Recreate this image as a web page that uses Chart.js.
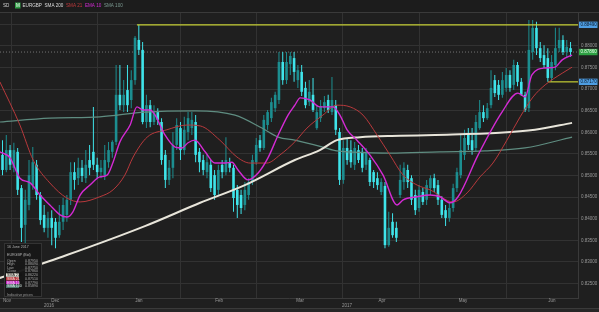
<!DOCTYPE html>
<html>
<head>
<meta charset="utf-8">
<title>EURGBP</title>
<script src="https://cdn.jsdelivr.net/npm/chart.js@4/dist/chart.umd.min.js"></script>
<style>
    html, body { margin: 0; padding: 0; background: #1f1f1f; overflow: hidden; }
    #wrap { position: relative; width: 599px; height: 312px; }
</style>
</head>
<body>
<div id="wrap"><canvas id="priceChart" width="599" height="312"></canvas></div>
<script>
// Daily candles, 28 Nov 2016 .. 23 Jun 2017 (index = trading day)
const opens = [
    0.8548, 0.8513, 0.8559, 0.8518, 0.8555, 0.8471, 0.8386, 0.8432, 0.8478, 0.8525,
    0.8455, 0.8409, 0.8379, 0.8402, 0.8393, 0.8362, 0.8393, 0.8409, 0.8444, 0.8508,
    0.8494, 0.8518, 0.8494, 0.8536, 0.8555, 0.8525, 0.8508, 0.8501, 0.8531, 0.8555,
    0.8578, 0.8687, 0.8663, 0.8698, 0.8675, 0.8721, 0.8814, 0.8791, 0.8624, 0.8663,
    0.8624, 0.8647, 0.8624, 0.8548, 0.8490, 0.8518, 0.8571, 0.8610, 0.8559, 0.8601,
    0.8610, 0.8624, 0.8555, 0.8536, 0.8508, 0.8525, 0.8501, 0.8467, 0.8525, 0.8508,
    0.8531, 0.8518, 0.8467, 0.8455, 0.8432, 0.8455, 0.8485, 0.8531, 0.8582, 0.8564,
    0.8617, 0.8633, 0.8656, 0.8675, 0.8763, 0.8721, 0.8758, 0.8772, 0.8721, 0.8740,
    0.8703, 0.8670, 0.8687, 0.8610, 0.8633, 0.8656, 0.8675, 0.8647, 0.8663, 0.8601,
    0.8490, 0.8564, 0.8559, 0.8525, 0.8559, 0.8555, 0.8525, 0.8536, 0.8508, 0.8494,
    0.8462, 0.8476, 0.8339, 0.8393, 0.8379, 0.8455, 0.8485, 0.8513, 0.8494, 0.8455,
    0.8425, 0.8462, 0.8444, 0.8471, 0.8494, 0.8478, 0.8444, 0.8420, 0.8402, 0.8425,
    0.8471, 0.8501, 0.8548, 0.8594, 0.8582, 0.8564, 0.8610, 0.8647, 0.8633, 0.8663,
    0.8721, 0.8710, 0.8687, 0.8703, 0.8733, 0.8710, 0.8756, 0.8717, 0.8687, 0.8656,
    0.8786, 0.8842, 0.8795, 0.8779, 0.8772, 0.8726, 0.8756, 0.8795, 0.8814, 0.8786,
    0.8795
];
const highs = [
    0.8582, 0.8594, 0.8571, 0.8576, 0.8564, 0.8478, 0.8467, 0.8536, 0.8566, 0.8536,
    0.8462, 0.8432, 0.8416, 0.8420, 0.8402, 0.8432, 0.8448, 0.8455, 0.8531, 0.8531,
    0.8541, 0.8536, 0.8559, 0.8571, 0.8659, 0.8541, 0.8536, 0.8571, 0.8578, 0.8582,
    0.8756, 0.8756, 0.8721, 0.8756, 0.8744, 0.8823, 0.8849, 0.8809, 0.8687, 0.8675,
    0.8663, 0.8656, 0.8633, 0.8559, 0.8536, 0.8601, 0.8633, 0.8624, 0.8636, 0.8647,
    0.8647, 0.8640, 0.8564, 0.8548, 0.8548, 0.8536, 0.8513, 0.8525, 0.8536, 0.8589,
    0.8541, 0.8525, 0.8478, 0.8467, 0.8485, 0.8494, 0.8548, 0.8587, 0.8594, 0.8640,
    0.8652, 0.8680, 0.8694, 0.8786, 0.8786, 0.8786, 0.8786, 0.8786, 0.8756, 0.8756,
    0.8717, 0.8721, 0.8726, 0.8663, 0.8675, 0.8684, 0.8687, 0.8728, 0.8675, 0.8610,
    0.8582, 0.8587, 0.8582, 0.8578, 0.8571, 0.8564, 0.8564, 0.8541, 0.8513, 0.8508,
    0.8494, 0.8485, 0.8416, 0.8413, 0.8393, 0.8525, 0.8531, 0.8525, 0.8501, 0.8467,
    0.8478, 0.8471, 0.8490, 0.8501, 0.8504, 0.8490, 0.8453, 0.8432, 0.8439, 0.8481,
    0.8518, 0.8594, 0.8606, 0.8610, 0.8610, 0.8640, 0.8675, 0.8663, 0.8668, 0.8744,
    0.8733, 0.8721, 0.8740, 0.8749, 0.8744, 0.8768, 0.8763, 0.8726, 0.8694, 0.8860,
    0.8860, 0.8856, 0.8809, 0.8802, 0.8795, 0.8779, 0.8842, 0.8842, 0.8825, 0.8814,
    0.8809
];
const lows = [
    0.8501, 0.8508, 0.8513, 0.8508, 0.8455, 0.8346, 0.8339, 0.8420, 0.8467, 0.8444,
    0.8386, 0.8369, 0.8356, 0.8339, 0.8332, 0.8356, 0.8374, 0.8393, 0.8432, 0.8467,
    0.8478, 0.8485, 0.8483, 0.8501, 0.8513, 0.8494, 0.8494, 0.8490, 0.8518, 0.8541,
    0.8571, 0.8652, 0.8647, 0.8647, 0.8656, 0.8710, 0.8779, 0.8619, 0.8610, 0.8612,
    0.8617, 0.8617, 0.8525, 0.8471, 0.8478, 0.8494, 0.8559, 0.8536, 0.8548, 0.8582,
    0.8594, 0.8531, 0.8508, 0.8501, 0.8494, 0.8462, 0.8444, 0.8455, 0.8494, 0.8501,
    0.8508, 0.8416, 0.8402, 0.8411, 0.8420, 0.8444, 0.8478, 0.8525, 0.8555, 0.8559,
    0.8606, 0.8624, 0.8647, 0.8666, 0.8710, 0.8712, 0.8733, 0.8717, 0.8703, 0.8684,
    0.8656, 0.8661, 0.8647, 0.8606, 0.8624, 0.8647, 0.8645, 0.8640, 0.8594, 0.8478,
    0.8481, 0.8525, 0.8518, 0.8513, 0.8529, 0.8508, 0.8513, 0.8476, 0.8471, 0.8467,
    0.8455, 0.8332, 0.8335, 0.8356, 0.8346, 0.8448, 0.8467, 0.8471, 0.8432, 0.8409,
    0.8416, 0.8432, 0.8432, 0.8455, 0.8462, 0.8432, 0.8402, 0.8383, 0.8393, 0.8416,
    0.8462, 0.8494, 0.8536, 0.8559, 0.8548, 0.8555, 0.8606, 0.8624, 0.8629, 0.8656,
    0.8682, 0.8675, 0.8680, 0.8694, 0.8694, 0.8698, 0.8707, 0.8684, 0.8647, 0.8647,
    0.8768, 0.8779, 0.8763, 0.8749, 0.8717, 0.8717, 0.8744, 0.8786, 0.8779, 0.8772,
    0.8775
];
const closes = [
    0.8513, 0.8559, 0.8525, 0.8559, 0.8467, 0.8379, 0.8444, 0.8501, 0.8531, 0.8455,
    0.8397, 0.8379, 0.8402, 0.8379, 0.8356, 0.8393, 0.8432, 0.8444, 0.8508, 0.8490,
    0.8518, 0.8499, 0.8525, 0.8518, 0.8525, 0.8508, 0.8518, 0.8536, 0.8559, 0.8578,
    0.8687, 0.8663, 0.8687, 0.8663, 0.8721, 0.8819, 0.8791, 0.8624, 0.8663, 0.8624,
    0.8647, 0.8629, 0.8536, 0.8490, 0.8518, 0.8571, 0.8617, 0.8559, 0.8606, 0.8633,
    0.8629, 0.8548, 0.8531, 0.8513, 0.8531, 0.8471, 0.8455, 0.8513, 0.8508, 0.8536,
    0.8518, 0.8448, 0.8432, 0.8425, 0.8467, 0.8485, 0.8536, 0.8571, 0.8564, 0.8629,
    0.8647, 0.8670, 0.8687, 0.8763, 0.8721, 0.8763, 0.8777, 0.8740, 0.8744, 0.8694,
    0.8663, 0.8694, 0.8652, 0.8647, 0.8661, 0.8670, 0.8652, 0.8675, 0.8606, 0.8490,
    0.8564, 0.8536, 0.8531, 0.8564, 0.8536, 0.8518, 0.8555, 0.8485, 0.8485, 0.8478,
    0.8485, 0.8339, 0.8379, 0.8362, 0.8356, 0.8490, 0.8518, 0.8485, 0.8444, 0.8420,
    0.8467, 0.8439, 0.8478, 0.8494, 0.8471, 0.8444, 0.8409, 0.8402, 0.8425, 0.8471,
    0.8508, 0.8559, 0.8587, 0.8571, 0.8559, 0.8624, 0.8647, 0.8633, 0.8656, 0.8703,
    0.8691, 0.8687, 0.8721, 0.8733, 0.8703, 0.8756, 0.8717, 0.8687, 0.8652, 0.8791,
    0.8842, 0.8795, 0.8772, 0.8756, 0.8726, 0.8763, 0.8795, 0.8814, 0.8786, 0.8798,
    0.8786
];

// moving averages: [day index, value]
const ema10 = [[-0.7, 0.8555], [2.0, 0.8541], [4.6, 0.8494], [7.3, 0.8483], [9.9, 0.8455], [12.5, 0.8432],
    [15.2, 0.8409], [17.0, 0.8404], [18.6, 0.8416], [20.5, 0.8455], [23.1, 0.8478], [25.7, 0.8497],
    [27.6, 0.8501], [29.2, 0.8531], [31.0, 0.8578], [33.7, 0.8617], [35.5, 0.8659], [37.1, 0.8652],
    [39.0, 0.8652], [40.3, 0.8640], [42.9, 0.8594], [45.6, 0.8566], [47.4, 0.8564], [49.0, 0.8576],
    [50.8, 0.8582], [53.5, 0.8555], [56.1, 0.8529], [58.8, 0.8529], [60.6, 0.8531], [62.2, 0.8513],
    [64.8, 0.8490], [67.5, 0.8506], [70.1, 0.8541], [72.8, 0.8594], [75.4, 0.8640], [77.2, 0.8663],
    [78.6, 0.8680], [81.2, 0.8675], [83.8, 0.8659], [87.3, 0.8659], [89.1, 0.8640], [91.0, 0.8606],
    [93.6, 0.8582], [97.0, 0.8548], [100.5, 0.8501], [104.2, 0.8432], [105.8, 0.8444], [109.5, 0.8451],
    [112.9, 0.8455], [115.5, 0.8451], [118.2, 0.8437], [120.3, 0.8451], [125.6, 0.8548], [131.9, 0.8647],
    [136.1, 0.8691], [138.0, 0.8682], [139.8, 0.8733], [143.3, 0.8749], [145.9, 0.8751], [147.8, 0.8768],
    [150.4, 0.8779]];
const sma21 = [[-0.7, 0.8717], [4.6, 0.8617], [8.1, 0.8536], [12.5, 0.8483], [17.0, 0.8448], [20.5, 0.8439],
    [25.7, 0.8451], [29.2, 0.8467], [32.3, 0.8501], [34.5, 0.8543], [38.2, 0.8589], [43.4, 0.8606],
    [48.7, 0.8617], [52.2, 0.8615], [57.4, 0.8582], [61.9, 0.8543], [65.4, 0.8529], [69.8, 0.8529],
    [73.3, 0.8548], [77.2, 0.8578], [80.4, 0.8610], [84.6, 0.8640], [88.3, 0.8663], [91.8, 0.8659],
    [95.2, 0.8640], [98.9, 0.8594], [102.3, 0.8548], [105.8, 0.8501], [109.5, 0.8478], [112.9, 0.8467],
    [119.0, 0.8439], [122.7, 0.8460], [126.1, 0.8497], [129.5, 0.8529], [133.2, 0.8582], [136.7, 0.8636],
    [140.1, 0.8682], [143.3, 0.8710], [147.8, 0.8737], [150.4, 0.8751]];
const sma100 = [[-0.7, 0.8624], [12.5, 0.8633], [25.7, 0.8636], [37.6, 0.8647], [50.8, 0.8650], [61.4, 0.8640],
    [68.5, 0.8610], [72.8, 0.8589], [77.2, 0.8582], [84.6, 0.8566], [88.3, 0.8557], [102.3, 0.8552],
    [115.5, 0.8555], [127.4, 0.8557], [138.0, 0.8564], [150.4, 0.8589]];
const sma200 = [[-0.7, 0.8263], [17.0, 0.8316], [37.6, 0.8383], [52.2, 0.8437], [64.0, 0.8478], [77.2, 0.8536],
    [83.8, 0.8559], [88.3, 0.8582], [94.4, 0.8589], [105.0, 0.8592], [114.2, 0.8594], [131.3, 0.8599],
    [140.6, 0.8606], [150.4, 0.8622]];

// horizontal levels
const resistance = 0.8849, resistanceFrom = 35.5;
const support = 0.8717, supportFrom = 144.1;

// axes
const yTicks = [0.825, 0.830, 0.835, 0.840, 0.845, 0.850, 0.855, 0.860, 0.865, 0.870, 0.875, 0.880, 0.885];
const monthStarts = [2.5, 25.2, 46.9, 67.2, 89.9, 110.2, 133.2];
const monthNames = ['Nov', 'Dec', 'Jan', 'Feb', 'Mar', 'Apr', 'May', 'Jun'];
const monthCenters = [1.2, 13.9, 36.0, 57.2, 78.6, 100.2, 121.6, 145.1];
const yearNames = ['2016', '2017'];
const yearCenters = [12.3, 91.0];

const xMin = -0.66, xMax = 151.97;
const yMin = 0.82166, yMax = 0.88787;

const upColor = '#1c8e90';
const downColor = '#3fe4ea';
const gridColor = '#323232';
const FONT = 'Liberation Sans';

const lastIdx = closes.length - 1;

function candleColor(ctx) {
    const i = ctx.dataIndex;
    return closes[i] >= opens[i] ? upColor : downColor;
}
function toPoints(arr) {
    return arr.map(p => ({ x: p[0], y: p[1] }));
}
function lastOf(arr) {
    return arr[arr.length - 1][1];
}

const wickData = closes.map((c, i) => ({ x: i, y: [lows[i], highs[i]] }));
const bodyData = closes.map((c, i) => ({ x: i, y: [opens[i], closes[i]] }));

// background, header, price boxes and info panel
const panelPlugin = {
    id: 'panel',
    beforeDraw(chart) {
        const c = chart.ctx;
        c.save();
        c.fillStyle = '#1f1f1f';
        c.fillRect(0, 0, chart.width, chart.height);
        c.fillStyle = '#262626';
        c.fillRect(0, 308, chart.width, 4);
        c.strokeStyle = '#3a3a3a';
        c.lineWidth = 1;
        c.beginPath(); c.moveTo(0, 308.5); c.lineTo(chart.width, 308.5); c.stroke();
        c.restore();
    },
    afterDraw(chart) {
        const c = chart.ctx;
        const ys = chart.scales.y;
        c.save();

        // header line
        c.fillStyle = '#1c1c1c';
        c.fillRect(0, 0, chart.width, 12);
        c.strokeStyle = '#3a3a3a';
        c.beginPath(); c.moveTo(0, 12.5); c.lineTo(chart.width, 12.5); c.stroke();
        c.font = '4.6px "' + FONT + '"';
        c.textBaseline = 'middle';
        c.fillStyle = '#cfcfcf';
        c.fillText('SD', 3, 6);
        c.fillStyle = '#2f9e44';
        c.fillRect(15, 2.5, 5.5, 6);
        c.fillStyle = '#ffffff';
        c.fillText('M', 15.9, 6);
        const header = [['EURGBP', '#dcdcdc'], ['SMA 200', '#dcdcdc'], ['SMA 21', '#c0393c'],
                        ['EMA 10', '#d42ad4'], ['SMA 100', '#7c9b92']];
        let hx = 22.5;
        header.forEach(h => {
            c.fillStyle = h[1];
            c.fillText(h[0], hx, 6);
            hx += c.measureText(h[0]).width + 2.6;
        });

        // price boxes on the right axis
        function priceBox(value, bg, fg) {
            const y = ys.getPixelForValue(value);
            c.fillStyle = bg;
            c.fillRect(579, y - 3.2, 18.5, 6.4);
            c.fillStyle = fg;
            c.font = '4.5px "' + FONT + '"';
            c.fillText(value.toFixed(5), 580.5, y);
        }
        priceBox(resistance, '#4e9de2', '#0d1c2c');
        priceBox(support, '#4e9de2', '#0d1c2c');
        priceBox(closes[lastIdx], '#2ea043', '#eaffea');

        // info panel
        c.fillStyle = 'rgba(23,23,23,0.96)';
        c.fillRect(4, 243, 38, 54);
        c.strokeStyle = '#333333';
        c.strokeRect(4.5, 243.5, 37, 53);
        c.font = '3.6px "' + FONT + '"';
        c.fillStyle = '#b4b4b4';
        c.fillText('16 June 2017', 7, 247);
        c.fillText('EURGBP (Bid)', 7, 255);
        const rows = [['Open', opens[lastIdx]], ['High', highs[lastIdx]], ['Low', lows[lastIdx]], ['Close', closes[lastIdx]]];
        rows.forEach((r, k) => {
            const y = 260.5 + k * 3.6;
            c.fillStyle = '#a8a8a8';
            c.fillText(r[0], 7, y);
            c.fillText(r[1].toFixed(5), 25, y);
        });
        const tags = [['SMA 200', lastOf(sma200), '#e8e5da', '#111111'],
                      ['SMA 21', lastOf(sma21), '#b8393c', '#f0d0d0'],
                      ['EMA 10', lastOf(ema10), '#c228c2', '#f6d6f6'],
                      ['SMA 100', lastOf(sma100), '#4f7a70', '#d8ece6']];
        tags.forEach((t, k) => {
            const y = 275 + k * 3.75;
            c.fillStyle = t[2];
            c.fillRect(6, y - 1.7, 13, 3.4);
            c.fillStyle = t[3];
            c.fillText(t[0], 7, y);
            c.fillStyle = '#a8a8a8';
            c.fillText(t[1].toFixed(5), 25, y);
        });
        c.fillStyle = '#9a9a9a';
        c.fillText('Indicative prices', 7, 294.5);

        c.restore();
    }
};

const tickFont = { size: 4.5, family: FONT };

new Chart(document.getElementById('priceChart').getContext('2d'), {
    type: 'bar',
    data: {
        datasets: [
            { type: 'line', label: 'EMA 10', data: toPoints(ema10), borderColor: '#d42ad4', borderWidth: 1.4,
              pointRadius: 0, cubicInterpolationMode: 'monotone', xAxisID: 'x', yAxisID: 'y', order: 1 },
            { type: 'line', label: 'SMA 21', data: toPoints(sma21), borderColor: '#b8393c', borderWidth: 1,
              pointRadius: 0, cubicInterpolationMode: 'monotone', xAxisID: 'x', yAxisID: 'y', order: 2 },
            { type: 'line', label: 'SMA 200', data: toPoints(sma200), borderColor: '#e8e5da', borderWidth: 2,
              pointRadius: 0, cubicInterpolationMode: 'monotone', xAxisID: 'x', yAxisID: 'y', order: 3 },
            { type: 'line', label: 'SMA 100', data: toPoints(sma100), borderColor: '#5f8d81', borderWidth: 1.2,
              pointRadius: 0, cubicInterpolationMode: 'monotone', xAxisID: 'x', yAxisID: 'y', order: 4 },
            { type: 'line', label: 'Resistance', data: [{ x: resistanceFrom, y: resistance }, { x: xMax, y: resistance }],
              borderColor: '#c6cf35', borderWidth: 1.2, pointRadius: 0, xAxisID: 'x', yAxisID: 'y', order: 5 },
            { type: 'line', label: 'Support', data: [{ x: supportFrom, y: support }, { x: xMax, y: support }],
              borderColor: '#c6cf35', borderWidth: 1.2, pointRadius: 0, xAxisID: 'x', yAxisID: 'y', order: 5 },
            { type: 'bar', label: 'Bodies', data: bodyData, backgroundColor: candleColor, barThickness: 2.6,
              minBarLength: 1, grouped: false, inflateAmount: 0, xAxisID: 'x', yAxisID: 'y', order: 6 },
            { type: 'bar', label: 'Wicks', data: wickData, backgroundColor: candleColor, barThickness: 1,
              grouped: false, inflateAmount: 0, xAxisID: 'x', yAxisID: 'y', order: 7 },
            { type: 'line', label: 'Last', data: [{ x: xMin, y: closes[lastIdx] }, { x: xMax, y: closes[lastIdx] }],
              borderColor: '#8a8a8a', borderWidth: 0.8, borderDash: [1, 2], pointRadius: 0,
              xAxisID: 'x', yAxisID: 'y', order: 8 }
        ]
    },
    options: {
        responsive: false,
        animation: false,
        events: [],
        layout: { autoPadding: false, padding: { top: 12, left: 0, right: 0, bottom: 0 } },
        plugins: {
            legend: { display: false },
            tooltip: { enabled: false }
        },
        scales: {
            x: {
                type: 'linear', position: 'bottom', min: xMin, max: xMax, offset: false, weight: 0,
                afterBuildTicks: s => { s.ticks = monthStarts.map(v => ({ value: v })); },
                ticks: { display: false },
                grid: { color: gridColor, drawTicks: false, offset: false },
                border: { display: true, color: '#3a3a3a' },
                afterFit: s => { s.height = 0; }
            },
            xm: {
                type: 'linear', axis: 'x', position: 'bottom', min: xMin, max: xMax, offset: false, weight: 1,
                afterBuildTicks: s => { s.ticks = monthCenters.map(v => ({ value: v })); },
                ticks: { autoSkip: false, maxRotation: 0, minRotation: 0, padding: 0.5, color: '#9a9a9a',
                         font: tickFont, callback: (v, i) => monthNames[i] },
                grid: { display: false, drawTicks: false },
                border: { display: false },
                afterFit: s => { s.height = 5; }
            },
            xy: {
                type: 'linear', axis: 'x', position: 'bottom', min: xMin, max: xMax, offset: false, weight: 2,
                afterBuildTicks: s => { s.ticks = yearCenters.map(v => ({ value: v })); },
                ticks: { autoSkip: false, maxRotation: 0, minRotation: 0, padding: 0, color: '#9a9a9a',
                         font: tickFont, callback: (v, i) => yearNames[i] },
                grid: { display: false, drawTicks: false },
                border: { display: false },
                afterFit: s => { s.height = 9; }
            },
            y: {
                type: 'linear', position: 'right', min: yMin, max: yMax,
                afterBuildTicks: s => { s.ticks = yTicks.map(v => ({ value: v })); },
                ticks: { padding: 3, color: '#9a9a9a', font: tickFont, callback: v => v.toFixed(5) },
                grid: { color: gridColor, drawTicks: false },
                border: { color: '#3a3a3a' },
                afterFit: s => { s.width = 21; }
            }
        }
    },
    plugins: [panelPlugin]
});
</script>
</body>
</html>
